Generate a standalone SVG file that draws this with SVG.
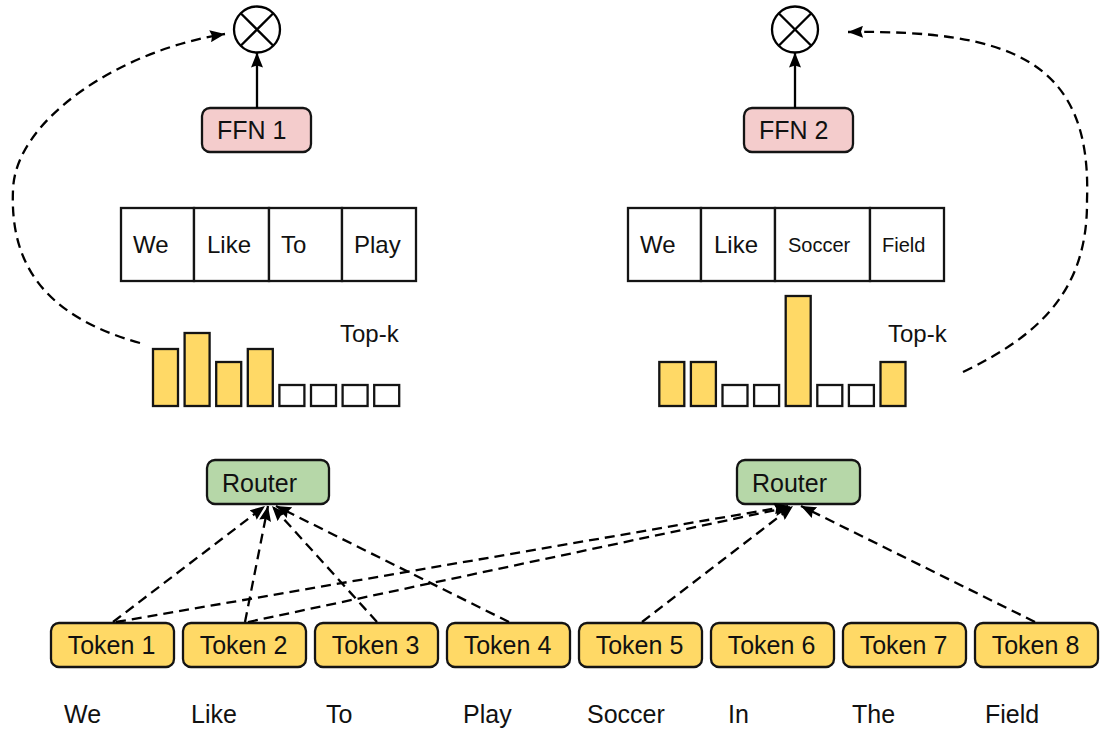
<svg xmlns="http://www.w3.org/2000/svg" width="1115" height="739" viewBox="0 0 1115 739">
<style>
  text { font-family: "Liberation Sans", Arial, sans-serif; fill: #111; }
  .t25 { font-size: 25px; }
  .t24 { font-size: 24px; }
  .t20 { font-size: 20px; }
  .box { stroke: #141414; stroke-width: 2.3; }
  .ffn { fill: #f4cccc; }
  .router { fill: #b6d7a8; }
  .token { fill: #ffd966; }
  .bar { fill: #ffd966; stroke: #141414; stroke-width: 2.3; }
  .empty { fill: #ffffff; stroke: #141414; stroke-width: 2.3; }
  .cell { fill: #ffffff; stroke: #141414; stroke-width: 2.3; }
  .dash { fill: none; stroke: #000; stroke-width: 2.3; stroke-dasharray: 10 6; marker-end: url(#arr); }
  .solid { fill: none; stroke: #000; stroke-width: 2.3; marker-end: url(#arr); }
  .circ { fill: #fff; stroke: #000; stroke-width: 2.3; }
</style>
<defs>
  <marker id="arr" markerUnits="userSpaceOnUse" markerWidth="16" markerHeight="12" refX="15" refY="6" orient="auto">
    <path d="M0,0 L15,6 L0,12 L2,6 z" fill="#000"/>
  </marker>
</defs>
<rect width="1115" height="739" fill="#ffffff"/>

<!-- left expert -->
<g id="mult1">
  <circle class="circ" cx="257" cy="29.5" r="23"/>
  <path d="M240.7,13.2 L273.3,45.8 M273.3,13.2 L240.7,45.8" stroke="#000" stroke-width="2.3"/>
</g>
<g id="ffn1">
  <rect class="box ffn" x="202" y="108" width="109" height="44" rx="8"/>
  <text class="t25" x="217" y="139">FFN 1</text>
</g>
<g id="words1">
  <rect class="cell" x="121" y="208" width="73" height="73"/>
  <rect class="cell" x="194" y="208" width="75" height="73"/>
  <rect class="cell" x="269" y="208" width="73" height="73"/>
  <rect class="cell" x="342" y="208" width="74" height="73"/>
  <text class="t24" x="133" y="253">We</text>
  <text class="t24" x="207" y="253">Like</text>
  <text class="t24" x="281" y="253">To</text>
  <text class="t24" x="354" y="253">Play</text>
</g>
<g id="bars1">
  <rect class="bar" x="153" y="349" width="25" height="57"/>
  <rect class="bar" x="184.6" y="333" width="25" height="73"/>
  <rect class="bar" x="216.2" y="362" width="25" height="44"/>
  <rect class="bar" x="247.8" y="349" width="25" height="57"/>
  <rect class="empty" x="279.4" y="385" width="25" height="21"/>
  <rect class="empty" x="311" y="385" width="25" height="21"/>
  <rect class="empty" x="342.6" y="385" width="25" height="21"/>
  <rect class="empty" x="374.2" y="385" width="25" height="21"/>
  <text class="t24" x="340" y="342">Top-k</text>
</g>
<g id="router1">
  <rect class="box router" x="207" y="460" width="122" height="44" rx="8"/>
  <text class="t25" x="222" y="492">Router</text>
</g>

<!-- right expert -->
<g id="mult2">
  <circle class="circ" cx="795" cy="29.5" r="23"/>
  <path d="M778.7,13.2 L811.3,45.8 M811.3,13.2 L778.7,45.8" stroke="#000" stroke-width="2.3"/>
</g>
<g id="ffn2">
  <rect class="box ffn" x="744" y="108" width="109" height="44" rx="8"/>
  <text class="t25" x="759" y="139">FFN 2</text>
</g>
<g id="words2">
  <rect class="cell" x="628" y="208" width="73" height="73"/>
  <rect class="cell" x="701" y="208" width="74" height="73"/>
  <rect class="cell" x="775" y="208" width="95" height="73"/>
  <rect class="cell" x="870" y="208" width="74" height="73"/>
  <text class="t24" x="640" y="253">We</text>
  <text class="t24" x="714" y="253">Like</text>
  <text class="t20" x="788" y="252">Soccer</text>
  <text class="t20" x="882" y="252">Field</text>
</g>
<g id="bars2">
  <rect class="bar" x="659.3" y="362" width="25" height="44"/>
  <rect class="bar" x="690.9" y="362" width="25" height="44"/>
  <rect class="empty" x="722.5" y="385" width="25" height="21"/>
  <rect class="empty" x="754.1" y="385" width="25" height="21"/>
  <rect class="bar" x="785.7" y="296" width="25" height="110"/>
  <rect class="empty" x="817.3" y="385" width="25" height="21"/>
  <rect class="empty" x="848.9" y="385" width="25" height="21"/>
  <rect class="bar" x="880.5" y="362" width="25" height="44"/>
  <text class="t24" x="888" y="342">Top-k</text>
</g>
<g id="router2">
  <rect class="box router" x="737" y="460" width="123" height="44" rx="8"/>
  <text class="t25" x="752" y="492">Router</text>
</g>

<!-- tokens -->
<g id="token1"><rect class="box token" x="51" y="623" width="123" height="44" rx="8"/><text class="t25" x="111.5" y="654" text-anchor="middle">Token 1</text></g>
<g id="token2"><rect class="box token" x="183" y="623" width="123" height="44" rx="8"/><text class="t25" x="243.5" y="654" text-anchor="middle">Token 2</text></g>
<g id="token3"><rect class="box token" x="315" y="623" width="123" height="44" rx="8"/><text class="t25" x="375.5" y="654" text-anchor="middle">Token 3</text></g>
<g id="token4"><rect class="box token" x="447" y="623" width="123" height="44" rx="8"/><text class="t25" x="507.5" y="654" text-anchor="middle">Token 4</text></g>
<g id="token5"><rect class="box token" x="579" y="623" width="123" height="44" rx="8"/><text class="t25" x="639.5" y="654" text-anchor="middle">Token 5</text></g>
<g id="token6"><rect class="box token" x="711" y="623" width="123" height="44" rx="8"/><text class="t25" x="771.5" y="654" text-anchor="middle">Token 6</text></g>
<g id="token7"><rect class="box token" x="843" y="623" width="123" height="44" rx="8"/><text class="t25" x="903.5" y="654" text-anchor="middle">Token 7</text></g>
<g id="token8"><rect class="box token" x="975" y="623" width="123" height="44" rx="8"/><text class="t25" x="1035.5" y="654" text-anchor="middle">Token 8</text></g>

<!-- bottom words -->
<g id="sentence">
  <text class="t25" x="64" y="723">We</text>
  <text class="t25" x="191" y="723">Like</text>
  <text class="t25" x="326" y="723">To</text>
  <text class="t25" x="463" y="723">Play</text>
  <text class="t25" x="587" y="723">Soccer</text>
  <text class="t25" x="728" y="723">In</text>
  <text class="t25" x="852" y="723">The</text>
  <text class="t25" x="985" y="723">Field</text>
</g>

<!-- connectors -->
<g id="connectors">
  <path class="solid" d="M257,108 L257,52.5"/>
  <path class="solid" d="M795,108 L795,52.5"/>
  <path class="dash" d="M140,343 C40,315 10,260 13,190 C15,120 120,50 225,34"/>
  <path class="dash" d="M963,372 C1040,335 1088,290 1087,200 C1092,60 1010,30 848,32"/>
  <path class="dash" d="M113,622 L265,506"/>
  <path class="dash" d="M245,622 L268,506"/>
  <path class="dash" d="M377,622 L272,506"/>
  <path class="dash" d="M509,622 L276,506"/>
  <path class="dash" d="M116,622 L789,506"/>
  <path class="dash" d="M248,622 L790,507"/>
  <path class="dash" d="M642,622 L793,506"/>
  <path class="dash" d="M1035,622 L801,506"/>
</g>
</svg>
